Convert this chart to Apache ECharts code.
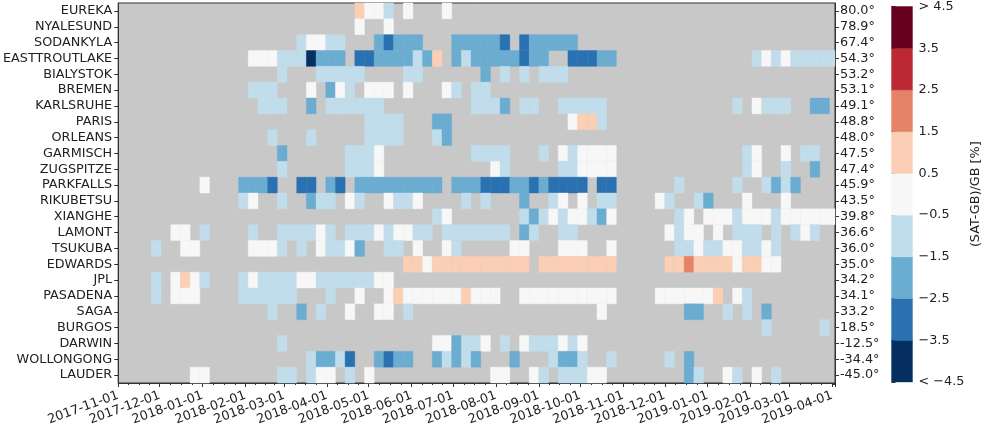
<!DOCTYPE html>
<html><head><meta charset="utf-8">
<script src="https://cdn.jsdelivr.net/npm/echarts@6/dist/echarts.min.js"></script>
<style>html,body{margin:0;padding:0;background:#fff}#c{width:995px;height:434px}</style>
</head><body><div id="c"></div>
<script>
// ---- categories ----
const stations = ['EUREKA','NYALESUND','SODANKYLA','EASTTROUTLAKE','BIALYSTOK','BREMEN','KARLSRUHE','PARIS','ORLEANS','GARMISCH','ZUGSPITZE','PARKFALLS','RIKUBETSU','XIANGHE','LAMONT','TSUKUBA','EDWARDS','JPL','PASADENA','SAGA','BURGOS','DARWIN','WOLLONGONG','LAUDER'];
const latitudes = ['80.0°','78.9°','67.4°','54.3°','53.2°','53.1°','49.1°','48.8°','48.0°','47.5°','47.4°','45.9°','43.5°','39.8°','36.6°','36.0°','35.0°','34.2°','34.1°','33.2°','18.5°','-12.5°','-34.4°','-45.0°'];
// weekly bins: week index 0 starts 2017-11-04
const firstWeekStart = [2017, 10, 4];
const colorbarBounds = [-4.5,-3.5,-2.5,-1.5,-0.5,0.5,1.5,2.5,3.5,4.5];
const colorbarTickLabels = ['< −4.5','−3.5','−2.5','−1.5','−0.5','0.5','1.5','2.5','3.5','> 4.5'];

// ---- values: [weekIndex, (SAT-GB)/GB %] ----
const EUREKA = [[24,1],[25,0],[26,0],[27,-1],[29,0],[33,0]];
const NYALESUND = [[24,0],[27,0]];
const SODANKYLA = [[18,-1],[19,0],[20,0],[21,-1],[22,-1],[26,-2],[27,-3],[28,-2],[29,-2],[30,-2],[34,-2],[35,-2],[36,-2],[37,-2],[38,-2],[39,-3],[41,-3],[42,-2],[43,-2],[44,-2],[45,-2],[46,-2]];
const EASTTROUTLAKE = [[13,0],[14,0],[15,0],[16,-1],[17,-1],[18,-1],[19,-5],[20,-2],[21,-2],[22,-2],[24,-3],[25,-3],[26,-2],[27,-2],[28,-2],[29,-2],[30,-1],[31,-2],[32,1],[34,-2],[35,-1],[36,-2],[37,-2],[38,-2],[39,-2],[40,-2],[41,-3],[42,-2],[43,-2],[46,-3],[47,-3],[48,-3],[49,-2],[50,-2],[65,-1],[66,0],[67,-1],[68,0],[69,-1],[70,-1],[71,-1],[72,-1],[73,-1]];
const BIALYSTOK = [[16,-1],[20,-1],[21,-1],[22,-1],[23,-1],[24,-1],[29,-1],[30,-1],[37,-2],[39,-1],[41,-1],[43,-1],[44,-1],[45,-1]];
const BREMEN = [[13,-1],[14,-1],[15,-1],[19,0],[21,-2],[22,0],[23,-1],[25,0],[26,0],[27,0],[29,0],[33,0],[34,-1],[36,-1],[37,-1]];
const KARLSRUHE = [[14,-1],[15,-1],[16,-1],[19,-2],[21,-1],[22,-1],[23,-1],[24,-1],[25,-1],[26,-1],[36,-1],[37,-1],[38,-1],[39,-2],[41,-1],[42,-1],[45,-1],[46,-1],[47,-1],[48,-1],[49,-1],[63,-1],[65,0],[66,-1],[67,-1],[68,-1],[71,-2],[72,-2]];
const PARIS = [[25,-1],[26,-1],[27,-1],[28,-1],[32,-2],[33,-2],[46,0],[47,1],[48,1],[49,-1]];
const ORLEANS = [[15,-1],[19,-1],[25,-1],[26,-1],[27,-1],[28,-1],[32,-1],[33,-2]];
const GARMISCH = [[16,-2],[23,-1],[24,-1],[25,-1],[26,0],[36,-1],[37,-1],[38,-1],[39,-1],[43,-1],[45,0],[46,-1],[47,0],[48,0],[49,0],[50,0],[64,-1],[65,0],[68,0],[70,-1],[71,-1]];
const ZUGSPITZE = [[16,-1],[23,-1],[24,-1],[25,-1],[26,0],[38,0],[39,-1],[45,-1],[46,-1],[47,0],[48,0],[49,0],[50,0],[64,-1],[65,0],[68,-1],[71,-2]];
const PARKFALLS = [[8,0],[12,-2],[13,-2],[14,-2],[15,-3],[18,-3],[19,-3],[21,-2],[22,-3],[24,-2],[25,-2],[26,-2],[27,-2],[28,-2],[29,-2],[30,-2],[31,-2],[32,-2],[34,-2],[35,-2],[36,-2],[37,-3],[38,-3],[39,-3],[40,-2],[41,-2],[42,-3],[43,-2],[44,-3],[45,-3],[46,-3],[47,-3],[49,-3],[50,-3],[57,-1],[63,-1],[66,-1],[67,-2],[68,-1],[69,-2]];
const RIKUBETSU = [[12,-1],[13,0],[16,-1],[19,-2],[20,-1],[21,-1],[23,0],[24,-1],[27,0],[28,-1],[29,-1],[30,0],[35,-1],[37,-1],[41,-2],[44,-1],[45,0],[47,0],[49,-1],[50,-1],[55,0],[56,-1],[59,-1],[60,-2],[64,0],[68,0]];
const XIANGHE = [[32,-1],[33,0],[41,-1],[42,-2],[43,-1],[44,0],[45,-1],[46,0],[47,0],[48,-1],[49,-2],[50,0],[57,-1],[58,0],[60,0],[61,0],[62,0],[63,-1],[64,0],[65,0],[66,0],[67,-1],[68,0],[69,0],[70,0],[71,0],[72,0],[73,0]];
const LAMONT = [[5,0],[6,0],[8,-1],[13,-1],[16,-1],[17,-1],[18,-1],[19,-1],[20,0],[21,-1],[23,-1],[24,-1],[25,-1],[26,0],[27,-1],[28,0],[29,0],[30,-1],[31,-1],[33,-1],[34,-1],[35,-1],[36,-1],[37,-1],[38,-1],[39,-1],[41,-2],[42,-1],[45,-1],[46,-1],[56,0],[57,-1],[58,0],[59,0],[61,0],[63,-1],[64,-1],[65,-1],[67,-1],[69,-1],[70,0],[71,-1]];
const TSUKUBA = [[3,-1],[6,0],[7,0],[13,0],[14,0],[15,0],[16,-1],[18,-1],[20,0],[21,-1],[22,-1],[23,0],[24,-2],[27,-1],[28,-1],[30,0],[33,0],[34,-1],[40,0],[41,0],[45,0],[46,0],[47,0],[50,0],[57,-1],[58,-1],[59,0],[60,-1],[61,-1],[62,0],[63,0],[64,-1],[65,-1],[66,0],[67,-1]];
const EDWARDS = [[29,1],[30,1],[31,0],[32,1],[33,1],[34,1],[35,1],[36,1],[37,1],[38,1],[39,1],[40,1],[41,1],[43,1],[44,1],[45,1],[46,1],[47,1],[48,1],[49,1],[50,1],[56,1],[57,1],[58,2],[59,1],[60,1],[61,1],[62,1],[63,0],[64,1],[65,1],[66,0],[67,0]];
const JPL = [[3,-1],[5,0],[6,1],[7,0],[8,-1],[12,-1],[13,0],[14,-1],[15,-1],[16,-1],[17,-1],[18,0],[19,0],[20,-1],[21,-1],[22,-1],[23,-1],[24,-1],[25,-1],[26,0],[27,0]];
const PASADENA = [[3,-1],[5,0],[6,0],[7,0],[12,-1],[13,-1],[14,-1],[15,-1],[16,-1],[17,-1],[21,-1],[24,0],[27,0],[28,1],[29,0],[30,0],[31,0],[32,0],[33,0],[34,0],[35,1],[36,0],[37,0],[38,0],[41,0],[42,0],[43,0],[44,0],[45,0],[46,0],[47,0],[48,0],[49,0],[50,0],[55,0],[56,0],[57,0],[58,0],[59,0],[60,0],[61,1],[63,0],[64,-1]];
const SAGA = [[15,-1],[18,-2],[20,-1],[23,0],[26,0],[27,0],[29,-1],[49,0],[58,-2],[59,-2],[62,-1],[64,-1],[66,-2]];
const BURGOS = [[66,-1],[72,-1]];
const DARWIN = [[16,-1],[32,0],[33,0],[34,-2],[35,-1],[36,-1],[37,0],[39,-1],[41,0],[42,-1],[43,-1],[44,-1],[45,0],[46,-1],[47,0]];
const WOLLONGONG = [[19,-1],[20,-2],[21,-2],[22,-1],[23,-3],[26,-2],[27,-3],[28,-2],[29,-2],[32,-2],[33,-1],[34,-2],[35,-1],[36,-2],[40,-2],[44,-1],[45,-2],[46,-2],[47,-1],[50,-1],[56,-1],[58,-2]];
const LAUDER = [[7,0],[8,0],[16,-1],[17,-1],[19,-1],[20,0],[21,0],[23,-1],[25,0],[38,0],[39,0],[42,0],[43,-1],[45,-1],[46,-1],[47,-1],[48,0],[49,0],[58,-2],[59,-1],[62,0],[63,-1],[65,0],[67,-1]];

const stationCells = [EUREKA,NYALESUND,SODANKYLA,EASTTROUTLAKE,BIALYSTOK,BREMEN,KARLSRUHE,PARIS,ORLEANS,GARMISCH,ZUGSPITZE,PARKFALLS,RIKUBETSU,XIANGHE,LAMONT,TSUKUBA,EDWARDS,JPL,PASADENA,SAGA,BURGOS,DARWIN,WOLLONGONG,LAUDER];

// ---- styling ----
const palette = ['#053061','#2a71b2','#6bacd1','#c1ddec','#f7f7f7','#fbceb6','#e58368','#bb2a34','#67001f'];
const FONT = 'DejaVu Sans';
const FS = 12.8;
const TXT = '#222';
function colorFor(v){
  for (let i = 1; i < colorbarBounds.length - 1; i++) { if (v < colorbarBounds[i]) return palette[i-1]; }
  return palette[palette.length-1];
}
function weekTime(i){ return new Date(firstWeekStart[0], firstWeekStart[1], firstWeekStart[2] + 7*i).getTime(); }

const cellData = [];
stationCells.forEach((cells, row) => {
  cells.forEach(([w, v]) => cellData.push([weekTime(w), weekTime(w+1), row, v]));
});
const barData = [];
for (let i = 0; i < colorbarBounds.length - 1; i++) barData.push([colorbarBounds[i], colorbarBounds[i+1], i]);

const chart = echarts.init(document.getElementById('c'), null, {renderer:'canvas'});
chart.setOption({
  animation:false,
  textStyle:{fontFamily:FONT},
  grid:[
    {left:118, right:160, top:3, bottom:51, show:true, backgroundColor:'#c8c8c8', borderColor:'#333', borderWidth:1},
    {left:891.5, width:21, top:3, height:379, show:false}
  ],
  xAxis:[
    {type:'time', gridIndex:0, min:new Date(2017,10,1).getTime(), max:new Date(2019,3,3).getTime(),
     splitNumber:17, minInterval:28*864e5, maxInterval:31*864e5,
     axisLine:{show:true, lineStyle:{color:'#333', width:1}},
     axisTick:{show:true, length:4, lineStyle:{color:'#333'}},
     minorTick:{show:true, splitNumber:4, length:2, lineStyle:{color:'#333'}},
     splitLine:{show:false}, minorSplitLine:{show:false},
     axisLabel:{rotate:20, formatter:'{yyyy}-{MM}-{dd}', fontSize:FS, color:TXT, margin:12, hideOverlap:false, showMinLabel:true, showMaxLabel:false, fontFamily:FONT}},
    {type:'value', gridIndex:1, min:0, max:1, show:false}
  ],
  yAxis:[
    {type:'category', gridIndex:0, data:stations, inverse:true, position:'left',
     axisLine:{show:true, lineStyle:{color:'#333'}}, axisTick:{show:true, alignWithLabel:true, length:4, lineStyle:{color:'#333'}},
     axisLabel:{fontSize:FS, color:TXT, margin:6, interval:0, fontFamily:FONT}, splitLine:{show:false}},
    {type:'category', gridIndex:0, data:latitudes, inverse:true, position:'right',
     axisLine:{show:true, lineStyle:{color:'#333'}}, axisTick:{show:true, alignWithLabel:true, length:4, lineStyle:{color:'#333'}},
     axisLabel:{fontSize:FS, color:TXT, margin:5, interval:0, fontFamily:FONT}, splitLine:{show:false}},
    {type:'value', gridIndex:1, min:-4.5, max:4.5, interval:1, position:'right',
     axisLine:{show:false}, axisTick:{show:true, length:4, lineStyle:{color:'#333'}},
     axisLabel:{fontSize:FS, color:TXT, margin:6, fontFamily:FONT, showMinLabel:true, showMaxLabel:true,
       formatter:(v)=>{ const i = colorbarBounds.findIndex(b=>Math.abs(b-v)<1e-6); return i>=0 ? colorbarTickLabels[i] : ''; }},
     splitLine:{show:false},
     name:'(SAT-GB)/GB [%]', nameLocation:'middle', nameRotate:90, nameGap:57,
     nameTextStyle:{fontSize:FS, color:TXT, fontFamily:FONT}}
  ],
  series:[
    {type:'custom', xAxisIndex:0, yAxisIndex:0, data:cellData, encode:{x:[0,1], y:2},
     renderItem:(params, api)=>{
       const p0 = api.coord([api.value(0), api.value(2)]);
       const p1 = api.coord([api.value(1), api.value(2)]);
       const h = api.size([0,1])[1];
       const cs = params.coordSys;
       const r = echarts.graphic.clipRectByRect({x:p0[0], y:p0[1]-h/2, width:p1[0]-p0[0], height:h},
                                               {x:cs.x, y:cs.y, width:cs.width, height:cs.height});
       if (!r) return;
       const c = colorFor(api.value(3));
       return {type:'rect', shape:r, style:{fill:c, stroke:c, lineWidth:0.4}};
     }},
    {type:'custom', xAxisIndex:1, yAxisIndex:2, data:barData, encode:{y:[0,1]},
     renderItem:(params, api)=>{
       const a = api.coord([0, api.value(1)]);
       const b = api.coord([1, api.value(0)]);
       const c = palette[api.value(2)];
       return {type:'rect', shape:{x:a[0], y:a[1], width:b[0]-a[0], height:b[1]-a[1]}, style:{fill:c, stroke:c, lineWidth:0.4}};
     }}
  ]
});
</script></body></html>
